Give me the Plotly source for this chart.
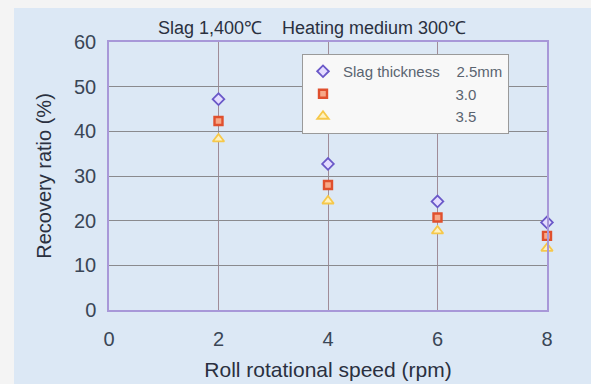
import plotly.graph_objects as go

speed = [2, 4, 6, 8]
t25 = [47.2, 32.7, 24.3, 19.6]
t30 = [42.3, 28.0, 20.7, 16.6]
t35 = [38.3, 24.4, 17.7, 13.8]
NB = "\u00a0"
names = ["Slag thickness" + NB * 4 + "2.5mm", NB * 27 + "3.0", NB * 27 + "3.5"]
title_text = "Slag 1,400\u2103" + NB * 4 + "Heating medium 300\u2103"

fig = go.Figure()
fig.add_trace(go.Scatter(x=speed, y=t25, mode="markers", name=names[0], cliponaxis=False,
    marker=dict(symbol="diamond", size=9, color="#e4dcff",
                line=dict(color="#6a58c8", width=1.8))))
fig.add_trace(go.Scatter(x=speed, y=t30, mode="markers", name=names[1], cliponaxis=False,
    marker=dict(symbol="square", size=8, color="#f7a888",
                line=dict(color="#e0502e", width=2.4))))
fig.add_trace(go.Scatter(x=speed, y=t35, mode="markers", name=names[2], cliponaxis=False,
    marker=dict(symbol="triangle-up", size=10, color="#fff2c0",
                line=dict(color="#f6c84a", width=1.8))))

L, R, T, B = 109, 44, 42, 74
W, H = 591, 384
pw, ph = W - L - R, H - T - B
fig.add_shape(type="rect", xref="paper", yref="paper", layer="below",
              x0=(14 - L) / pw, x1=(W - L) / pw + 0.05,
              y0=-(B + 10) / ph, y1=(H - 8 - B) / ph,
              fillcolor="#dce8f5", line=dict(width=0))

fig.update_layout(
    width=W, height=H,
    margin=dict(l=L, r=R, t=T, b=B, autoexpand=False),
    paper_bgcolor="#f4f4f4",
    plot_bgcolor="#f8f8f8",
    font=dict(family="Liberation Sans, Arial, sans-serif", color="#3a4656"),
    title=dict(text=title_text, x=(312 - L) / pw, xref="paper", xanchor="center",
               y=1 - 28 / H, yanchor="middle",
               font=dict(size=18, color="#2a3040")),
    showlegend=True,
    legend=dict(x=(302 - L) / pw, y=(H - B - 54) / ph, xanchor="left", yanchor="top",
                bgcolor="#f8f8f8", bordercolor="#9a9a9a", borderwidth=1,
                font=dict(size=15, color="#5a6470"), itemwidth=30,
                tracegroupgap=0),
    xaxis=dict(range=[0, 8], tickvals=[0, 2, 4, 6, 8], showgrid=True, automargin=False,
               gridcolor="#a08c98", gridwidth=1, zeroline=False,
               showline=True, linecolor="#a898d8", linewidth=1.5, mirror=True,
               ticks="", tickfont=dict(size=20, color="#3a4656"), ticklabelstandoff=10,
               title=dict(text="Roll rotational speed (rpm)", font=dict(size=21, color="#2a3040"), standoff=14)),
    yaxis=dict(range=[0, 60], tickvals=[0, 10, 20, 30, 40, 50, 60], showgrid=True, automargin=False,
               gridcolor="#8a8a8e", gridwidth=1, zeroline=False,
               showline=True, linecolor="#a898d8", linewidth=1.5, mirror=True,
               ticks="", tickfont=dict(size=20, color="#3a4656"), ticklabelstandoff=7,
               title=dict(text="Recovery ratio (%)", font=dict(size=20, color="#2a3040"), standoff=17)),
)
fig.write_html("out.html", config={"displayModeBar": False},
               post_script="document.body.style.margin='0';document.body.style.background='#f4f4f4';")
